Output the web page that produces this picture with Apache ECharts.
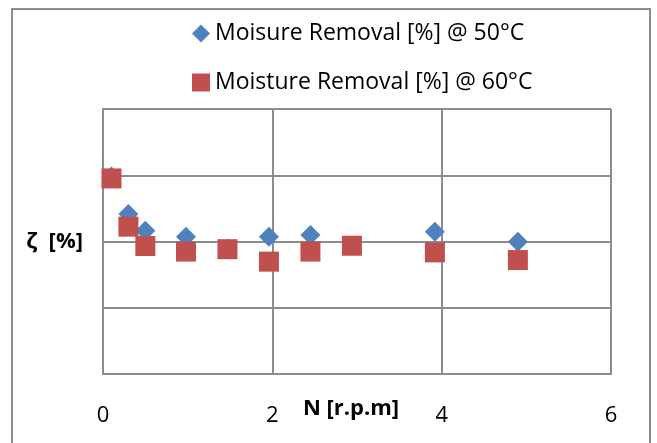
<!DOCTYPE html>
<html>
<head>
<meta charset="utf-8">
<script src="https://cdn.jsdelivr.net/npm/echarts@6/dist/echarts.min.js"></script>
<style>html,body{margin:0;padding:0;background:#fff}#c{width:657px;height:443px}</style>
</head>
<body>
<div id="c"></div>
<script>
var xTicks = [0, 2, 4, 6];
var series50Name = 'Moisure Removal [%] @ 50°C';
var series60Name = 'Moisture Removal [%] @ 60°C';
var x50 = [0.1, 0.3, 0.5, 0.98, 1.47, 1.96, 2.45, 3.92, 4.9];
var y50 = [74.5, 60.4, 54.1, 51.8, 47.4, 51.8, 52.5, 53.7, 49.9];
var x60 = [0.1, 0.3, 0.5, 0.98, 1.47, 1.96, 2.45, 2.94, 3.92, 4.9];
var y60 = [73.8, 55.6, 48.3, 46.2, 47.1, 42.4, 46.2, 48.4, 45.9, 43.0];

function pairs(xs, ys) { return xs.map(function (v, i) { return [v, ys[i]]; }); }

var chart = echarts.init(document.getElementById('c'));
var gridColor = '#8c8c8c';
chart.setOption({
  animation: false,
  backgroundColor: '#fff',
  graphic: [{
    type: 'rect', shape: {x: 12, y: 9, width: 638, height: 450},
    style: {fill: 'none', stroke: '#8c8c8c', lineWidth: 2}, z: -1
  }],
  legend: {
    orient: 'vertical', left: 187, top: 17, itemGap: 26,
    itemWidth: 18, itemHeight: 18,
    textStyle: {fontFamily: 'Open Sans', fontSize: 23, color: '#000'},
    data: [{name: series50Name, icon: 'diamond'}, {name: series60Name, icon: 'rect'}]
  },
  grid: {left: 103, right: 46, top: 109, bottom: 69, outerBoundsMode: 'none'},
  xAxis: {
    type: 'value', min: 0, max: 6, interval: 2,
    name: 'N [r.p.m]', nameLocation: 'middle', nameGap: 24, nameMoveOverlap: false,
    nameTextStyle: {fontFamily: 'Open Sans', fontWeight: 'bold', fontSize: 22, color: '#000', padding: [0, 12, 0, 0]},
    axisLine: {lineStyle: {color: gridColor, width: 2}},
    axisTick: {show: false},
    axisLabel: {margin: 31, fontFamily: 'Open Sans', fontSize: 22, color: '#000',
      formatter: function (v) { return xTicks.indexOf(v) >= 0 ? String(v) : ''; }},
    splitLine: {show: true, lineStyle: {color: gridColor, width: 2}}
  },
  yAxis: {
    type: 'value', min: 0, max: 100, interval: 25,
    name: 'ζ  [%]', nameLocation: 'middle', nameGap: 20, nameRotate: 0, nameMoveOverlap: false,
    nameTextStyle: {fontFamily: 'Open Sans', fontWeight: 'bold', fontSize: 22, color: '#000', align: 'right', verticalAlign: 'middle'},
    axisLine: {show: true, lineStyle: {color: gridColor, width: 2}},
    axisTick: {show: false},
    axisLabel: {show: false},
    splitLine: {show: true, lineStyle: {color: gridColor, width: 2}}
  },
  series: [
    {name: series50Name, type: 'scatter', symbol: 'diamond', symbolSize: 20,
      itemStyle: {color: '#4F81BD', opacity: 1}, data: pairs(x50, y50), z: 2},
    {name: series60Name, type: 'scatter', symbol: 'rect', symbolSize: 20,
      itemStyle: {color: '#C0504D', opacity: 1}, data: pairs(x60, y60), z: 3}
  ]
});
</script>
</body>
</html>
